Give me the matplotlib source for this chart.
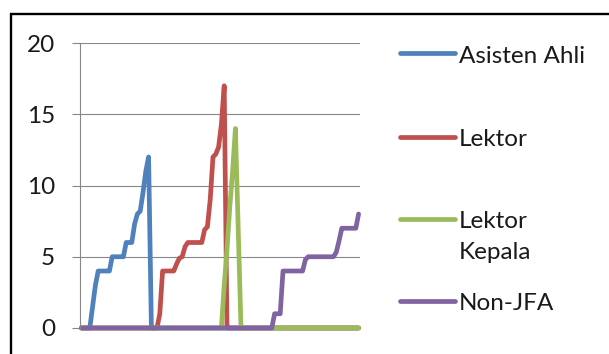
import matplotlib
matplotlib.use("Agg")
import matplotlib.pyplot as plt
from matplotlib.lines import Line2D
from matplotlib.patches import Rectangle

plt.rcParams['font.family'] = ['Lato', 'DejaVu Sans']

# one value per category, 100 categories along the x axis
asisten_ahli = [
    0, 0, 0, 0, 1.5, 3, 4, 4, 4, 4, 4, 5, 5, 5, 5, 5, 6, 6, 6, 7.3,
    8, 8.2, 9.5, 11, 12, 0, 0, 0, 0, 0, 0, 0, 0, 0, 0, 0, 0, 0, 0, 0,
    0, 0, 0, 0, 0, 0, 0, 0, 0, 0, 0, 0, 0, 0, 0, 0, 0, 0, 0, 0,
    0, 0, 0, 0, 0, 0, 0, 0, 0, 0, 0, 0, 0, 0, 0, 0, 0, 0, 0, 0,
    0, 0, 0, 0, 0, 0, 0, 0, 0, 0, 0, 0, 0, 0, 0, 0, 0, 0, 0, 0,
]
lektor = [
    0, 0, 0, 0, 0, 0, 0, 0, 0, 0, 0, 0, 0, 0, 0, 0, 0, 0, 0, 0,
    0, 0, 0, 0, 0, 0, 0, 0, 1, 4, 4, 4, 4, 4, 4.5, 4.9, 5, 5.7, 6, 6,
    6, 6, 6, 6, 6.9, 7.1, 9, 12, 12.2, 12.7, 14.3, 17, 0, 0, 0, 0, 0, 0, 0, 0,
    0, 0, 0, 0, 0, 0, 0, 0, 0, 0, 0, 0, 0, 0, 0, 0, 0, 0, 0, 0,
    0, 0, 0, 0, 0, 0, 0, 0, 0, 0, 0, 0, 0, 0, 0, 0, 0, 0, 0, 0,
]
lektor_kepala = [
    0, 0, 0, 0, 0, 0, 0, 0, 0, 0, 0, 0, 0, 0, 0, 0, 0, 0, 0, 0,
    0, 0, 0, 0, 0, 0, 0, 0, 0, 0, 0, 0, 0, 0, 0, 0, 0, 0, 0, 0,
    0, 0, 0, 0, 0, 0, 0, 0, 0, 0, 0, 3, 5.5, 8.5, 11, 14, 7, 0, 0, 0,
    0, 0, 0, 0, 0, 0, 0, 0, 0, 0, 0, 0, 0, 0, 0, 0, 0, 0, 0, 0,
    0, 0, 0, 0, 0, 0, 0, 0, 0, 0, 0, 0, 0, 0, 0, 0, 0, 0, 0, 0,
]
non_jfa = [
    0, 0, 0, 0, 0, 0, 0, 0, 0, 0, 0, 0, 0, 0, 0, 0, 0, 0, 0, 0,
    0, 0, 0, 0, 0, 0, 0, 0, 0, 0, 0, 0, 0, 0, 0, 0, 0, 0, 0, 0,
    0, 0, 0, 0, 0, 0, 0, 0, 0, 0, 0, 0, 0, 0, 0, 0, 0, 0, 0, 0,
    0, 0, 0, 0, 0, 0, 0, 0, 0, 1, 1, 1, 4, 4, 4, 4, 4, 4, 4, 4,
    4.8, 5, 5, 5, 5, 5, 5, 5, 5, 5, 5, 5.3, 6.1, 7, 7, 7, 7, 7, 7, 8,
]

series = [
    ("Asisten Ahli", asisten_ahli, "#4F81BD"),
    ("Lektor", lektor, "#C0504D"),
    ("Lektor\nKepala", lektor_kepala, "#9BBB59"),
    ("Non-JFA", non_jfa, "#8064A2"),
]
y_ticks = [0, 5, 10, 15, 20]

W, H = 609, 354
fig = plt.figure(figsize=(W / 100, H / 100), dpi=100)
fig.patch.set_facecolor("white")

# plot area in pixels: x 80..360, y 43..328 (from top)
ax = fig.add_axes([80 / W, (H - 328) / H, 280 / W, 285 / H])

lines = []
for label, values, color in series:
    ln, = ax.plot(range(len(values)), values, color=color, lw=3.4, label=label,
                  solid_joinstyle="round", solid_capstyle="round", clip_on=False)
    lines.append(ln)

ax.set_xlim(-0.5, len(non_jfa) - 0.5)
ax.set_ylim(0, 20)
ax.set_yticks(y_ticks)
ax.set_xticks([])
ax.set_axisbelow(True)
ax.grid(axis="y", color="#878787", lw=0.8)
for side in ("top", "right", "bottom"):
    ax.spines[side].set_visible(False)
ax.spines["left"].set_color("#878787")
ax.spines["left"].set_linewidth(0.8)
ax.tick_params(axis="y", length=5.8, width=0.8, color="#878787", pad=12,
               labelsize=17.5, labelcolor="#1a1a1a")

# legend drawn at the right, keys evenly spaced, text hanging from the first line
def px(x, y):
    return x / W, (H - y) / H

key_rows = [53.3, 136.7, 219.0, 300.7]
for ln, ky in zip(lines, key_rows):
    x0, y0 = px(400, ky)
    x1, _ = px(455, ky)
    fig.add_artist(Line2D([x0, x1], [y0, y0], transform=fig.transFigure,
                          color=ln.get_color(), lw=3.4, solid_capstyle="round"))
    for k, part in enumerate(ln.get_label().split("\n")):
        tx, ty = px(459, ky + 9.3 + 31 * k)
        fig.text(tx, ty, part, fontsize=17.5, color="#1a1a1a",
                 ha="left", va="baseline")

# outer frame, open to the right and bottom edges
fx, fy = px(10.5, 14)
fig.add_artist(Rectangle((fx, -0.5), 2.0, fy + 0.5, transform=fig.transFigure,
                         fill=False, edgecolor="black", lw=1.7))

fig.savefig("out.png", dpi=100)
